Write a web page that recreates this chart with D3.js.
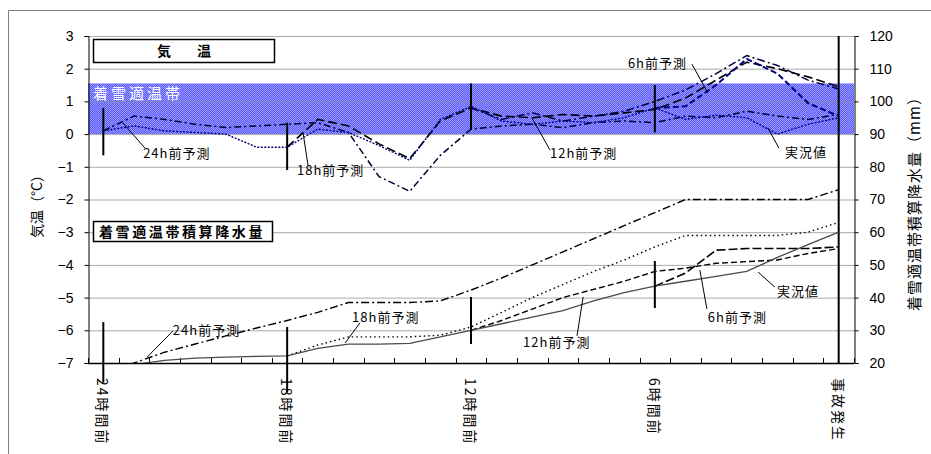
<!DOCTYPE html>
<html>
<head>
<meta charset="utf-8">
<script src="https://cdn.jsdelivr.net/npm/d3@7"></script>
<style>
  body { margin: 0; background: #fff; }
  svg text { font-family: 'Noto Sans CJK JP', 'Noto Sans', sans-serif; }
</style>
</head>
<body>
<div id="chart"></div>
<script>
// hours before the accident, one point per hour
const HOURS = d3.range(-24, 1);
const hourLabels = [
  { h: -24, text: '24時間前' }, { h: -18, text: '18時間前' },
  { h: -12, text: '12時間前' }, { h: -6, text: '6時間前' }, { h: 0, text: '事故発生' },
];
const tempTicks = d3.range(-7, 4);
const rainTicks = d3.range(20, 121, 10);

// temperature (°C, left axis)
const tempObs = [0.1, 0.25, 0.1, 0.05, 0.0, -0.4, -0.4, 0.15, 0.05, -0.35, -0.8, 0.45, 0.85,
                 0.4, 0.3, 0.4, 0.35, 0.5, 0.8, 0.45, 0.58, 0.5, 0.0, 0.3, 0.5];
const tempF24 = [0.1, 0.55, 0.45, 0.3, 0.2, 0.25, 0.3, 0.35, 0.05, -1.3, -1.75, -0.65, 0.15,
                 0.25, 0.3, 0.2, 0.35, 0.4, 0.35, 0.55, 0.5, 0.7, 0.55, 0.45, 0.6];
const tempF18 = [-0.4, 0.45, 0.25, -0.3, -0.75, 0.4, 0.8, 0.55, 0.5, 0.6, 0.55, 0.65, 0.75,
                 1.1, 1.65, 2.2, 2.0, 1.75, 1.45];
const tempF12 = [0.8, 0.45, 0.65, 0.4, 0.55, 0.7, 1.0, 1.35, 1.85, 2.4, 2.1, 1.65, 1.38];
const tempF6  = [0.8, 0.85, 1.5, 2.3, 1.85, 0.95, 0.55];

// accumulated precipitation in the snow-accretion band (mm, right axis)
const rainObs = [16, 19.5, 20.8, 21.5, 21.8, 22, 22.2, 24.5, 25.8, 25.8, 26, 28, 30,
                 32, 34, 36, 39, 41.5, 43.5, 45, 46.5, 48, 52.3, 56.2, 60];
const rainF24 = [14, 20, 23.3, 25.8, 28.3, 30.7, 33, 35.5, 38.5, 38.5, 38.5, 39, 42.3,
                 46, 50, 54, 58, 62, 66, 70, 70, 70, 70, 70, 73];
const rainF18 = [22.2, 25.5, 28, 28, 28, 28.5, 31, 35.5, 40, 44, 48, 51.5, 55.5,
                 59, 59, 59, 59, 60, 63];
const rainF12 = [30, 33, 36.5, 40, 42.5, 45, 48, 49, 50.5, 51, 51.5, 53.5, 55];
const rainF6  = [43.5, 47.5, 54.5, 55, 55, 55, 55.5];

// suitable temperature band for snow accretion
const band = [0, 1.55];

// forecast start markers: [hour, low, high]
const tempMarks = [[-24, -0.65, 0.8], [-18, -1.1, 0.35], [-12, 0.15, 1.55], [-6, 0.05, 1.5]];
const rainMarks = [[-24, 14, 32.5], [-18, 11, 31], [-12, 25.8, 40.2], [-6, 36.8, 51.2]];

// call-out labels: text anchor and leader line, in data units
const tempNotes = [
  { text: '24h前予測', at: [-22.7, -0.73], from: [-22.64, -0.43], to: [-23.36, 0.34] },
  { text: '18h前予測', at: [-17.68, -1.25], from: [-17.32, -0.95], to: [-17.48, 0.03] },
  { text: '12h前予測', at: [-9.42, -0.73], from: [-9.42, -0.49], to: [-10.01, 0.49] },
  { text: '6h前予測', at: [-6.88, 2.02], from: [-4.79, 2.14], to: [-4.27, 1.26] },
  { text: '実況値', at: [-1.75, -0.7], from: [-1.95, -0.43], to: [-2.31, 0.19] },
];
const rainNotes = [
  { text: '24h前予測', at: [-21.73, 28.6], from: [-21.73, 29.8], to: [-22.57, 21.8] },
  { text: '18h前予測', at: [-15.88, 32.5], from: [-15.62, 32.3], to: [-16.11, 26.1] },
  { text: '12h前予測', at: [-10.3, 24.9], from: [-8.54, 28.3], to: [-8.34, 40.2] },
  { text: '6h前予測', at: [-4.27, 32.5], from: [-4.3, 36.5], to: [-4.53, 48.4] },
  { text: '実況値', at: [-2.01, 40.5], from: [-2.08, 43.2], to: [-2.63, 47.8] },
];

(function () {
  'use strict';

  const W = 931, H = 454;
  const margin = { top: 36, right: 77, bottom: 91, left: 88 };
  const innerW = W - margin.left - margin.right;
  const innerH = H - margin.top - margin.bottom;
  const NAVY = '#000080';

  const svg = d3.select('#chart').append('svg').attr('width', W).attr('height', H);

  // outer frame (only top and left edges are inside the picture)
  svg.append('path').attr('d', `M8.5,${H} V10.5 H${W}`).attr('fill', 'none').attr('stroke', '#808080');

  const defs = svg.append('defs');
  const pat = defs.append('pattern').attr('id', 'dither').attr('width', 2).attr('height', 2)
    .attr('patternUnits', 'userSpaceOnUse');
  pat.append('rect').attr('width', 2).attr('height', 2).attr('fill', '#5858ff');
  pat.append('rect').attr('width', 1).attr('height', 1).attr('fill', '#9a9aff');
  pat.append('rect').attr('x', 1).attr('y', 1).attr('width', 1).attr('height', 1).attr('fill', '#9a9aff');
  defs.append('clipPath').attr('id', 'plotclip').append('rect').attr('width', innerW).attr('height', innerH);

  const g = svg.append('g').attr('transform', `translate(${margin.left},${margin.top})`);

  const x = d3.scaleLinear().domain([-24.5, 0.5]).range([0, innerW]);
  const yT = d3.scaleLinear().domain([-7, 3]).range([innerH, 0]);
  const yR = d3.scaleLinear().domain([20, 120]).range([innerH, 0]);

  // band
  g.append('rect').attr('x', 0).attr('width', innerW)
    .attr('y', yT(band[1])).attr('height', yT(band[0]) - yT(band[1]))
    .attr('fill', 'url(#dither)');
  g.append('text').attr('x', 5).attr('y', yT(band[1]) + 16)
    .style('font-size', '15px').style('letter-spacing', '3px').attr('fill', '#fff').text('着雪適温帯');

  // gridlines
  g.selectAll('.gy').data(tempTicks.slice(1)).enter().append('line')
    .attr('x1', 0).attr('x2', innerW).attr('y1', d => yT(d) + 0.5).attr('y2', d => yT(d) + 0.5)
    .attr('stroke', '#8c8c8c').attr('stroke-opacity', 0.75);

  // axes
  const axL = g.append('g').attr('transform', 'translate(0.5,0)')
    .call(d3.axisLeft(yT).tickValues(tempTicks).tickSize(4).tickPadding(11));
  const axR = g.append('g').attr('transform', `translate(${innerW + 0.5},0)`)
    .call(d3.axisRight(yR).tickValues(rainTicks).tickSize(4).tickPadding(11));
  [axL, axR].forEach(a => {
    a.selectAll('text').style('font-family', "'Liberation Sans', Arial, sans-serif")
      .style('font-size', '14px').attr('fill', '#000');
    a.selectAll('line,path').attr('stroke', '#000');
  });

  const bounds = d3.range(-24.5, 0.6, 1);
  g.selectAll('.bt').data(bounds).enter().append('line')
    .attr('x1', d => Math.round(x(d)) + 0.5).attr('x2', d => Math.round(x(d)) + 0.5)
    .attr('y1', innerH).attr('y2', innerH - 5).attr('stroke', '#000');
  g.append('line').attr('x1', 0).attr('x2', innerW).attr('y1', innerH + 0.5).attr('y2', innerH + 0.5)
    .attr('stroke', '#000').attr('stroke-width', 1.5);

  g.selectAll('.xl').data(hourLabels).enter().append('text')
    .attr('transform', d => `translate(${x(d.h)},${innerH + 15}) rotate(90)`)
    .attr('dominant-baseline', 'central')
    .style('font-size', '14px').style('letter-spacing', '2px').attr('fill', '#000')
    .text(d => d.text);

  // axis titles
  svg.append('text').attr('transform', `translate(36,203) rotate(-90)`)
    .attr('text-anchor', 'middle').attr('dominant-baseline', 'central')
    .style('font-size', '14px').text('気温（°C）');
  svg.append('text').attr('transform', `translate(913,200) rotate(-90)`)
    .attr('text-anchor', 'middle').attr('dominant-baseline', 'central')
    .style('font-size', '15px').style('letter-spacing', '1px').text('着雪適温帯積算降水量（mm）');

  // accident time
  g.append('line').attr('x1', x(0)).attr('x2', x(0)).attr('y1', 0).attr('y2', innerH)
    .attr('stroke', '#000').attr('stroke-width', 2);

  // series
  const pairs = (start, vals) => vals.map((v, i) => [start + i, v]);
  const lineT = d3.line().x(d => x(d[0])).y(d => yT(d[1]));
  const lineR = d3.line().x(d => x(d[0])).y(d => yR(d[1]));
  const lines = g.append('g').attr('clip-path', 'url(#plotclip)');

  const tempSeries = [
    { data: pairs(-24, tempF24), color: '#000030', width: 1.5, dash: '7 3 2 3' },
    { data: pairs(-18, tempF18), color: '#000000', width: 1.6, dash: '9 4' },
    { data: pairs(-12, tempF12), color: '#000040', width: 1.5, dash: '8 3 2 3' },
    { data: pairs(-6, tempF6), color: NAVY, width: 2, dash: '6 3' },
    { data: pairs(-24, tempObs), color: NAVY, width: 1.4, dash: '2 1.5' },
  ];
  const rainSeries = [
    { data: pairs(-24, rainF24), color: '#000', width: 1.4, dash: '8 3 2 3' },
    { data: pairs(-18, rainF18), color: '#000', width: 1.4, dash: '1.5 3' },
    { data: pairs(-12, rainF12), color: '#000', width: 1.4, dash: '6 3' },
    { data: pairs(-6, rainF6), color: '#000', width: 1.6, dash: '9 3' },
    { data: pairs(-24, rainObs), color: '#4a4a4a', width: 1.3, dash: null },
  ];
  tempSeries.forEach(s => lines.append('path').datum(s.data).attr('fill', 'none')
    .attr('stroke', s.color).attr('stroke-width', s.width).attr('stroke-dasharray', s.dash).attr('d', lineT));
  rainSeries.forEach(s => lines.append('path').datum(s.data).attr('fill', 'none')
    .attr('stroke', s.color).attr('stroke-width', s.width).attr('stroke-dasharray', s.dash).attr('d', lineR));

  // forecast start markers
  g.selectAll('.mt').data(tempMarks).enter().append('line')
    .attr('x1', d => x(d[0])).attr('x2', d => x(d[0])).attr('y1', d => yT(d[1])).attr('y2', d => yT(d[2]))
    .attr('stroke', '#000').attr('stroke-width', 2);
  g.selectAll('.mr').data(rainMarks).enter().append('line')
    .attr('x1', d => x(d[0])).attr('x2', d => x(d[0])).attr('y1', d => yR(d[1])).attr('y2', d => yR(d[2]))
    .attr('stroke', '#000').attr('stroke-width', 2);

  // call-outs
  function notes(list, y) {
    list.forEach(n => {
      g.append('line').attr('x1', x(n.from[0])).attr('y1', y(n.from[1]))
        .attr('x2', x(n.to[0])).attr('y2', y(n.to[1])).attr('stroke', '#000').attr('stroke-width', 1);
      g.append('text').attr('x', x(n.at[0])).attr('y', y(n.at[1]))
        .style('font-size', '13px').style('letter-spacing', '1px').attr('fill', '#000').text(n.text);
    });
  }
  notes(tempNotes, yT);
  notes(rainNotes, yR);

  // section boxes
  g.append('rect').attr('x', 5.5).attr('y', 3.5).attr('width', 181).attr('height', 23)
    .attr('fill', '#fff').attr('stroke', '#000').attr('stroke-width', 1.5);
  g.append('text').attr('x', 99).attr('y', 20).attr('text-anchor', 'middle')
    .style('font-size', '14px').style('font-weight', 'bold').style('letter-spacing', '6px').text('気　温');
  g.append('rect').attr('x', 5.5).attr('y', 185.5).attr('width', 179).attr('height', 20)
    .attr('fill', '#fff').attr('stroke', '#000').attr('stroke-width', 1.5);
  g.append('text').attr('x', 11).attr('y', 201)
    .style('font-size', '14px').style('font-weight', 'bold').style('letter-spacing', '2.6px').text('着雪適温帯積算降水量');
})();
</script>
</body>
</html>
